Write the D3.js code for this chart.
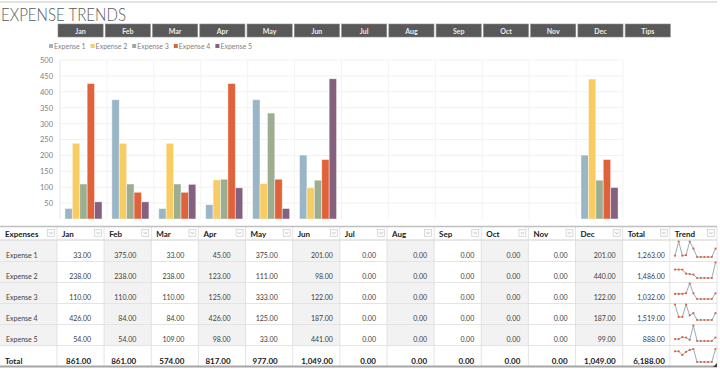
<!DOCTYPE html>
<html>
<head>
<meta charset="utf-8">
<script src="https://cdn.jsdelivr.net/npm/d3@7"></script>
<style>
  html, body { margin: 0; padding: 0; background: #fff; }
  svg { display: block; }
  text { font-family: "Lato", "Open Sans", sans-serif; }
</style>
</head>
<body>
<svg id="chart" width="720" height="369"></svg>
<script>
// ---------- DATA ----------
const months = ["Jan", "Feb", "Mar", "Apr", "May", "Jun", "Jul", "Aug", "Sep", "Oct", "Nov", "Dec"];
const headerTabs = ["Jan", "Feb", "Mar", "Apr", "May", "Jun", "Jul", "Aug", "Sep", "Oct", "Nov", "Dec", "Tips"];
const seriesNames = ["Expense 1", "Expense 2", "Expense 3", "Expense 4", "Expense 5"];
const expense1 = [33, 375, 33, 45, 375, 201, 0, 0, 0, 0, 0, 201];
const expense2 = [238, 238, 238, 123, 111, 98, 0, 0, 0, 0, 0, 440];
const expense3 = [110, 110, 110, 125, 333, 122, 0, 0, 0, 0, 0, 122];
const expense4 = [426, 84, 84, 426, 125, 187, 0, 0, 0, 0, 0, 187];
const expense5 = [54, 54, 109, 98, 33, 441, 0, 0, 0, 0, 0, 99];
const yTicks = [50, 100, 150, 200, 250, 300, 350, 400, 450, 500];
const tableTitle = "EXPENSE TRENDS";
const columnLabels = ["Expenses", "Jan", "Feb", "Mar", "Apr", "May", "Jun", "Jul", "Aug", "Sep", "Oct", "Nov", "Dec", "Total", "Trend"];

// ---------- STYLE ----------
const colors = ["#9ab6c6", "#f7cd63", "#9cae8f", "#e0623a", "#85607f"];
const seriesValues = [expense1, expense2, expense3, expense4, expense5];
const monthTotals = months.map((m, i) => d3.sum(seriesValues, s => s[i]));
const rowTotals = seriesValues.map(s => d3.sum(s));
const fmt = d3.format(",.2f");

const svg = d3.select("#chart");

// top rule
svg.append("line").attr("x1", 0).attr("x2", 717).attr("y1", 2).attr("y2", 2)
  .attr("stroke", "#d9d9d9").attr("stroke-width", 1.5);

// title
svg.append("text").attr("x", 1).attr("y", 21)
  .attr("font-size", 17).attr("font-weight", 300).attr("fill", "#595959")
  .attr("textLength", 125).attr("lengthAdjust", "spacingAndGlyphs")
  .text(tableTitle);

// month tabs
const tabX = d3.scaleBand().domain(headerTabs).range([58, 58 + 13 * 47.1]).paddingInner(0.045).paddingOuter(0);
const tabs = svg.append("g");
tabs.selectAll("rect").data(headerTabs).join("rect")
  .attr("x", d => tabX(d)).attr("y", 24).attr("width", tabX.bandwidth()).attr("height", 13)
  .attr("fill", "#595959").attr("stroke", "#8a8a8a").attr("stroke-width", 0.6);
tabs.selectAll("text").data(headerTabs).join("text")
  .attr("x", d => tabX(d) + tabX.bandwidth() / 2).attr("y", 33.5)
  .attr("text-anchor", "middle").attr("font-size", 7).attr("font-weight", 700)
  .attr("fill", "#ececec").text(d => d);

// legend
const legend = svg.append("g");
const legendItems = legend.selectAll("g").data(seriesNames).join("g")
  .attr("transform", (d, i) => `translate(${49 + i * 41.6},46)`);
legendItems.append("rect").attr("x", 0).attr("y", -2).attr("width", 4).attr("height", 4)
  .attr("fill", (d, i) => colors[i]);
legendItems.append("text").attr("x", 5).attr("y", 2.5).attr("font-size", 7)
  .attr("fill", "#7f7f7f").text(d => d);

// chart scales
const plotL = 60, plotR = 623, plotT = 60, plotB = 219;
const x = d3.scaleBand().domain(months).range([plotL, plotR]).paddingInner(0.21).paddingOuter(0.105);
const xs = d3.scaleBand().domain(seriesNames).range([0, x.bandwidth()]).padding(0);
const y = d3.scaleLinear().domain([0, 500]).range([plotB, plotT]);
const step = x.step();

// gridlines
const grid = svg.append("g");
grid.selectAll("line.h").data(yTicks).join("line").attr("class", "h")
  .attr("x1", plotL).attr("x2", plotR).attr("y1", d => y(d)).attr("y2", d => y(d))
  .attr("stroke", "#f1f1f1").attr("stroke-width", 1);
grid.selectAll("line.v").data(d3.range(months.length + 1)).join("line").attr("class", "v")
  .attr("x1", i => plotL + i * step).attr("x2", i => plotL + i * step)
  .attr("y1", plotT).attr("y2", plotB)
  .attr("stroke", (d, i) => i === 0 ? "#e6e6e6" : "#f3f3f3").attr("stroke-width", 1);

// y axis
const yAxis = svg.append("g").attr("transform", `translate(${plotL},0)`)
  .call(d3.axisLeft(y).tickValues(yTicks).tickSize(0).tickPadding(7));
yAxis.select(".domain").remove();
yAxis.selectAll("text").attr("font-size", 7.5).attr("fill", "#7f7f7f")
  .attr("font-family", "Lato, 'Open Sans', sans-serif");

// bars
const barData = [];
months.forEach((m, mi) => seriesNames.forEach((s, si) => barData.push({ m, s, si, v: seriesValues[si][mi] })));
svg.append("g").selectAll("rect").data(barData.filter(d => d.v > 0)).join("rect")
  .attr("x", d => x(d.m) + xs(d.s)).attr("width", xs.bandwidth())
  .attr("y", d => y(d.v)).attr("height", d => y(0) - y(d.v))
  .attr("fill", d => colors[d.si]).attr("stroke", "#ffffff").attr("stroke-opacity", 0.55).attr("stroke-width", 0.8);

// ---------- TABLE ----------
const colW = 47.14, firstW = 57;
const colX = i => i === 0 ? 0 : firstW + (i - 1) * colW;
const colWidth = i => i === 0 ? firstW : colW;
const cellPad = [0, 13, 15, 14, 15, 15, 7, 11, 7, 7, 8, 8, 7, 5];
const headTop = 227, headBot = 240, rowH = 21;
const rowTop = r => headBot + r * rowH;
const table = svg.append("g");
const nRows = seriesNames.length + 1;
const tableBot = rowTop(nRows);

// shading
table.selectAll("rect.shade").data(d3.range(0, 13, 2)).join("rect").attr("class", "shade")
  .attr("x", i => colX(i)).attr("y", headBot).attr("width", i => colWidth(i))
  .attr("height", rowTop(seriesNames.length) - headBot).attr("fill", "#f2f2f2");

// horizontal separators
table.selectAll("line.rs").data(d3.range(1, nRows)).join("line").attr("class", "rs")
  .attr("x1", 0).attr("x2", 717).attr("y1", r => rowTop(r) + 0.5).attr("y2", r => rowTop(r) + 0.5)
  .attr("stroke", "#e4e4e4").attr("stroke-width", 1);
table.append("line").attr("x1", 0).attr("x2", 717).attr("y1", headBot).attr("y2", headBot)
  .attr("stroke", "#d0d0d0").attr("stroke-width", 1);
// vertical separators
table.selectAll("line.cs").data(d3.range(1, 16)).join("line").attr("class", "cs")
  .attr("x1", i => i === 15 ? 717 : colX(i)).attr("x2", i => i === 15 ? 717 : colX(i))
  .attr("y1", headTop).attr("y2", tableBot)
  .attr("stroke", "#dcdcdc").attr("stroke-width", 0.8);
// top and bottom rules
table.append("line").attr("x1", 0).attr("x2", 717).attr("y1", headTop - 0.5).attr("y2", headTop - 0.5)
  .attr("stroke", "#bfbfbf").attr("stroke-width", 1.6);
table.append("line").attr("x1", 0).attr("x2", 717).attr("y1", tableBot + 0.5).attr("y2", tableBot + 0.5)
  .attr("stroke", "#a6a6a6").attr("stroke-width", 2);

// header labels + filter buttons
const heads = table.selectAll("g.head").data(columnLabels).join("g").attr("class", "head");
heads.append("text").attr("x", (d, i) => colX(i) + 5).attr("y", 236.5)
  .attr("font-size", 8).attr("font-weight", 700).attr("fill", "#1a1a1a").text(d => d);
heads.append("rect").attr("x", (d, i) => colX(i) + colWidth(i) - 9.5).attr("y", 229.5)
  .attr("width", 7).attr("height", 7).attr("fill", "#fafafa").attr("stroke", "#c6c6c6").attr("stroke-width", 0.6);
heads.append("path").attr("d", (d, i) => {
  const cx = colX(i) + colWidth(i) - 6, cy = 233;
  return `M${cx - 1.5},${cy - 0.8}L${cx},${cy + 0.8}L${cx + 1.5},${cy - 0.8}`;
}).attr("fill", "none").attr("stroke", "#9a9a9a").attr("stroke-width", 0.6);

// data rows
const allRows = seriesValues.map((vals, r) => ({ label: seriesNames[r], vals, total: rowTotals[r], bold: false }))
  .concat([{ label: "Total", vals: monthTotals, total: d3.sum(rowTotals), bold: true }]);

allRows.forEach((row, r) => {
  const bot = rowTop(r + 1);
  const g = table.append("g");
  const baseY = row.bold ? bot - 2.5 : bot - 3.5;
  const fs = row.bold ? 8 : 7;
  const fw = row.bold ? 700 : 400;
  const fill = row.bold ? "#1a1a1a" : "#404040";
  g.append("text").attr("x", row.bold ? 5 : 6).attr("y", baseY).attr("font-size", fs).attr("font-weight", fw)
    .attr("fill", fill).text(row.label);
  const cells = row.vals.concat([row.total]);
  g.selectAll("text.v").data(cells).join("text").attr("class", "v")
    .attr("x", (d, i) => colX(i + 1) + colWidth(i + 1) - cellPad[i + 1]).attr("y", baseY)
    .attr("text-anchor", "end").attr("font-size", fs).attr("font-weight", fw).attr("fill", fill)
    .text(d => fmt(d));

  // sparkline
  const sx = d3.scaleLinear().domain([0, months.length - 1]).range([675, 715.5]);
  const sy = d3.scaleLinear().domain(d3.extent(row.vals)).range([bot - 4, rowTop(r) + (row.bold ? 4 : 1.5)]);
  const line = d3.line().x((d, i) => sx(i)).y(d => sy(d));
  g.append("path").attr("d", line(row.vals)).attr("fill", "none").attr("stroke", "#9aabb9").attr("stroke-width", 1);
  g.selectAll("circle").data(row.vals).join("circle")
    .attr("cx", (d, i) => sx(i)).attr("cy", d => sy(d)).attr("r", 1.1).attr("fill", "#e0623a");
});

// resize handle
table.append("path").attr("d", `M717,${tableBot - 3}L717,${tableBot + 1}L713,${tableBot + 1}Z`).attr("fill", "#404040");
</script>
</body>
</html>
